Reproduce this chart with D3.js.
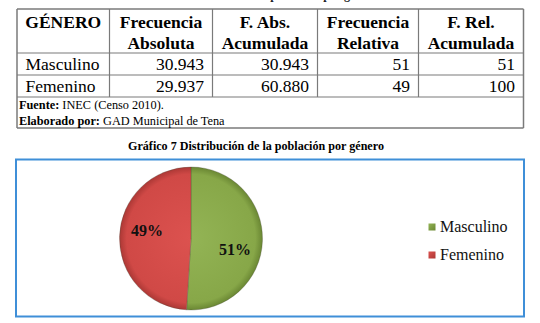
<!DOCTYPE html>
<html>
<head>
<meta charset="utf-8">
<script src="https://cdn.jsdelivr.net/npm/d3@7"></script>
<style>
  html, body { margin: 0; padding: 0; background: #fff; }
  svg { display: block; }
  svg text { font-family: 'Liberation Serif', 'DejaVu Serif', serif; }
</style>
</head>
<body>
<svg id="chart" width="540" height="323" font-family="Liberation Serif, DejaVu Serif, serif"></svg>
<script>
// ---------- data ----------
const tableTitle = "Tabla 7 Distribución de la población por género";
const headerLine1 = ["GÉNERO", "Frecuencia", "F. Abs.", "Frecuencia", "F. Rel."];
const headerLine2 = ["", "Absoluta", "Acumulada", "Relativa", "Acumulada"];
const categories = ["Masculino", "Femenino"];
const frecAbsoluta = [30943, 29937];
const frecAbsAcumulada = [30943, 60880];
const frecRelativa = [51, 49];
const frecRelAcumulada = [51, 100];
const fuenteLabel = "Fuente:";
const fuenteText = " INEC (Censo 2010).";
const elaboradoLabel = "Elaborado por:";
const elaboradoText = " GAD Municipal de Tena";
const chartTitle = "Gráfico 7 Distribución de la población por género";
const pieValues = [51, 49];
const pieLabels = ["51%", "49%"];

// ---------- layout ----------
const FONT = "Liberation Serif, DejaVu Serif, serif";
const svg = d3.select("#chart");
const colEdges = [17, 109.5, 212.5, 317.5, 418.5, 523.5];
const rowEdges = [9, 53, 75, 97, 128];
const gridColor = "#7a7a7a";
const es = d3.formatLocale({decimal: ",", thousands: ".", grouping: [3], currency: ["$", ""]});
const fmt = es.format(",d");

function txt(sel) { return sel.append("text").attr("font-family", FONT); }

// clipped title at very top (only descenders visible)
txt(svg).attr("x", 378.5).attr("y", -1.3)
  .attr("text-anchor", "end")
  .attr("font-size", 12).attr("font-weight", "bold")
  .attr("fill", "#222")
  .text(tableTitle);

const tg = svg.append("g");
rowEdges.forEach((y, i) => {
  tg.append("line").attr("x1", colEdges[0]).attr("x2", colEdges[colEdges.length - 1])
    .attr("y1", y).attr("y2", y)
    .attr("stroke", gridColor).attr("stroke-width", (i === 0 || i === rowEdges.length - 1) ? 1.5 : 1.2);
});
colEdges.forEach((x, i) => {
  const outer = (i === 0 || i === colEdges.length - 1);
  tg.append("line").attr("x1", x).attr("x2", x)
    .attr("y1", rowEdges[0]).attr("y2", outer ? rowEdges[rowEdges.length - 1] : rowEdges[3])
    .attr("stroke", gridColor).attr("stroke-width", outer ? 1.5 : 1.2);
});

const fs = 17.5;
headerLine1.forEach((t, i) => {
  const cx = (colEdges[i] + colEdges[i + 1]) / 2;
  txt(tg).attr("x", cx).attr("y", 28).attr("text-anchor", "middle")
    .attr("font-size", fs).attr("font-weight", "bold").attr("fill", "#000").text(t);
  if (headerLine2[i]) {
    txt(tg).attr("x", cx).attr("y", 48.5).attr("text-anchor", "middle")
      .attr("font-size", fs).attr("font-weight", "bold").attr("fill", "#000").text(headerLine2[i]);
  }
});
const rowBase = [69.5, 91.5];
categories.forEach((c, r) => {
  const vals = [fmt(frecAbsoluta[r]), fmt(frecAbsAcumulada[r]), String(frecRelativa[r]), String(frecRelAcumulada[r])];
  txt(tg).attr("x", colEdges[0] + 8.5).attr("y", rowBase[r])
    .attr("font-size", fs).attr("fill", "#000").text(c);
  vals.forEach((v, j) => {
    txt(tg).attr("x", colEdges[j + 2] - 8.5).attr("y", rowBase[r])
      .attr("text-anchor", "end").attr("font-size", fs).attr("fill", "#000").text(v);
  });
});
const n1 = txt(tg).attr("x", colEdges[0] + 2).attr("y", 108.5).attr("font-size", 12.3).attr("fill", "#000");
n1.append("tspan").attr("font-weight", "bold").text(fuenteLabel);
n1.append("tspan").text(fuenteText);
const n2 = txt(tg).attr("x", colEdges[0] + 2).attr("y", 124.5).attr("font-size", 12.3).attr("fill", "#000");
n2.append("tspan").attr("font-weight", "bold").text(elaboradoLabel);
n2.append("tspan").text(elaboradoText);

txt(svg).attr("x", 256).attr("y", 149.5).attr("text-anchor", "middle")
  .attr("font-size", 12.1).attr("font-weight", "bold").attr("fill", "#000").text(chartTitle);

svg.append("rect").attr("x", 16).attr("y", 159.5).attr("width", 508).attr("height", 157)
  .attr("fill", "#fff").attr("stroke", "#3f8fd8").attr("stroke-width", 2);

// gradients
const defs = svg.append("defs");
const sliceColors = [
  {id: "gGreen", c0: "#93b455", c1: "#87a748", c2: "#6a8733"},
  {id: "gRed", c0: "#dc524f", c1: "#d04946", c2: "#ac3835"}
];
sliceColors.forEach(s => {
  const g = defs.append("radialGradient").attr("id", s.id)
    .attr("gradientUnits", "userSpaceOnUse").attr("cx", 0).attr("cy", 0).attr("r", 71.5);
  g.append("stop").attr("offset", "0%").attr("stop-color", s.c0);
  g.append("stop").attr("offset", "90%").attr("stop-color", s.c1);
  g.append("stop").attr("offset", "100%").attr("stop-color", s.c2);
  const lgr = defs.append("linearGradient").attr("id", s.id + "L")
    .attr("x1", 0).attr("y1", 0).attr("x2", 1).attr("y2", 1);
  lgr.append("stop").attr("offset", "0%").attr("stop-color", s.c0);
  lgr.append("stop").attr("offset", "100%").attr("stop-color", s.c2);
});

// pie
const cx = 191, cy = 238.5, R = 71.5;
const pie = d3.pie().sort(null).value(d => d);
const arcs = pie(pieValues);
const arc = d3.arc().innerRadius(0).outerRadius(R);
const labelArc = d3.arc().innerRadius(44).outerRadius(44);
const labelShiftY = [10, -7];
const pg = svg.append("g").attr("transform", `translate(${cx},${cy})`);
pg.selectAll("path").data(arcs).enter().append("path")
  .attr("d", arc)
  .attr("fill", (d, i) => `url(#${sliceColors[i].id})`)
  .attr("stroke", "#4a4a3a").attr("stroke-width", 0.6).attr("stroke-opacity", 0.5);
pg.selectAll("text.lbl").data(arcs).enter().append("text")
  .attr("class", "lbl").attr("font-family", FONT)
  .attr("x", d => labelArc.centroid(d)[0])
  .attr("y", (d, i) => labelArc.centroid(d)[1] + labelShiftY[i] + 5.5)
  .attr("text-anchor", "middle").attr("font-size", 16).attr("font-weight", "bold").attr("fill", "#111")
  .text((d, i) => pieLabels[i]);

// legend
const lg = svg.append("g");
categories.forEach((c, i) => {
  const y = 227 + i * 28;
  lg.append("rect").attr("x", 428.5).attr("y", y - 3.5).attr("width", 7).attr("height", 7)
    .attr("fill", `url(#${sliceColors[i].id}L)`);
  txt(lg).attr("x", 440).attr("y", y + 5.2).attr("font-size", 16).attr("fill", "#111").text(c);
});
</script>
</body>
</html>
